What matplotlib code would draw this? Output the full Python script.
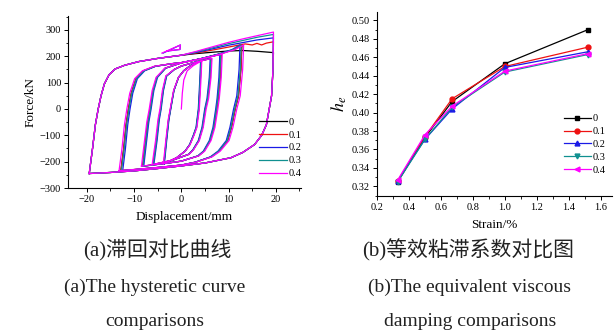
import matplotlib.pyplot as plt
import numpy as np
from matplotlib.ticker import MultipleLocator

plt.rcParams['font.family'] = ['Liberation Serif', 'DejaVu Serif']
plt.rcParams['mathtext.fontset'] = 'stix'

labels = ['0', '0.1', '0.2', '0.3', '0.4']
colors = ['#000000', '#ee1111', '#1a1ae6', '#109090', '#ff00ff']
markers = ['s', 'o', '^', 'v', '<']

# --- (b) equivalent viscous damping ---
strain = [0.33, 0.50, 0.67, 1.00, 1.52]
he = {
    '0':   [0.325, 0.373, 0.412, 0.453, 0.490],
    '0.1': [0.326, 0.374, 0.415, 0.450, 0.471],
    '0.2': [0.326, 0.371, 0.404, 0.449, 0.466],
    '0.3': [0.325, 0.371, 0.406, 0.444, 0.463],
    '0.4': [0.327, 0.376, 0.407, 0.445, 0.464],
}

# --- (a) hysteresis loops ---
# initial loading
init_x = [0, 0.2, 0.5, 1.2, 2.5, 4.2]
init_f = [0, 60, 110, 145, 165, 183]

# inner loops: upper branch then lower branch (closed)
loop4_x = [-3.7, -3.2, -2.7, -2.3, -1.6, -0.6, 0.5, 1.6, 3.0, 4.2,
           4.0, 3.7, 3.2, 2.6, 1.8, 0.8, -1.0, -3.7]
loop4_f = [-208, -120, -40, 0, 70, 120, 145, 160, 175, 183,
           100, 0, -70, -100, -135, -160, -185, -208]
loop6_x = [-6.0, -5.3, -4.8, -4.4, -3.9, -3.2, -1.5, 0, 3.0, 6.3,
           6.1, 5.6, 5.1, 4.5, 3.7, 2.5, 1.6, -2.0, -6.0]
loop6_f = [-211, -120, -40, 0, 70, 125, 150, 163, 178, 192,
           120, 40, 0, -70, -120, -155, -172, -195, -211]
loop8_x = [-8.2, -7.7, -7.1, -6.6, -6.0, -5.2, -3.4, 0, 4.0, 8.4,
           8.2, 7.8, 7.5, 6.9, 6.1, 4.8, 3.6, 0, -4.0, -8.2]
loop8_f = [-217, -140, -50, 0, 70, 120, 155, 175, 190, 208,
           120, 40, 0, -70, -120, -160, -178, -198, -208, -217]
loop13_x = [-12.8, -12.2, -11.7, -11.2, -10.6, -9.6, -8.0, -5.6, -2.0, 0, 4.0, 8.0, 11.0, 12.8,
            12.6, 12.1, 11.4, 10.6, 9.8, 8.0, 6.3, 3.0, 0, -5.0, -10.0, -12.8]
loop13_f = [-234, -150, -60, 0, 60, 115, 145, 162, 172, 176, 190, 208, 225, 243,
            150, 50, 0, -70, -120, -160, -182, -202, -213, -222, -230, -234]

# small jump near x = 0 on the outer branch (series 0.2 and 0.4)
jump_x = [-4.0, -0.2, -0.3, -3.0]
jump_f = [212, 243, 226, 220]

# outer loop (20 mm): rising part up to x=0, then per-series branch, then falling branch
outer_rise_x = [-19.5, -18.8, -18.2, -17.6, -17.0, -16.3, -15.3, -14.0, -12.0, -9.0, -5.0, 0]
outer_rise_f = [-245, -150, -60, 0, 50, 95, 130, 152, 166, 180, 192, 204]
outer_top_x = {
    '0':   [3, 7, 10, 13, 16, 19.5],
    '0.1': [3, 7, 10, 12, 13.5, 15, 16, 17, 18, 19.5],
    '0.2': [3, 7, 10, 13, 16, 19.5],
    '0.3': [3, 7, 10, 13, 16, 19.5],
    '0.4': [3, 7, 10, 13, 16, 19.5],
}
outer_top_f = {
    '0':   [210, 216, 220, 222, 219, 214],
    '0.1': [212, 225, 235, 242, 247, 243, 249, 243, 250, 255],
    '0.2': [214, 230, 242, 252, 262, 270],
    '0.3': [216, 234, 248, 260, 272, 283],
    '0.4': [218, 238, 253, 266, 278, 292],
}
outer_fall_x = [19.4, 19.1, 18.6, 18.0, 17.0, 15.5, 13.0, 10.5, 5.0, 0, -5.0, -10.0, -15.0, -19.5]
outer_fall_f = [150, 50, 0, -60, -100, -135, -165, -185, -205, -216, -226, -235, -241, -245]

# slight spread of inner loops between series
inner_scale = [1.0, 1.0, 0.97, 0.99, 1.03]

fig = plt.figure(figsize=(6.14, 3.33), dpi=100)

ax1 = fig.add_axes([0.1107, 0.4354, 0.3793, 0.5166])
for i, lab in enumerate(labels):
    c = colors[i]
    s = inner_scale[i]
    for lx, lf in [(init_x, init_f), (loop4_x, loop4_f), (loop6_x, loop6_f),
                   (loop8_x, loop8_f), (loop13_x, loop13_f)]:
        if lab == '0.4' or lx is not init_x:
            ax1.plot(np.array(lx) * s, lf, color=c, lw=0.9)
    if lab in ('0.2', '0.4'):
        ax1.plot(np.array(jump_x) * s, jump_f, color=c, lw=0.9)
    ox = outer_rise_x + outer_top_x[lab] + outer_fall_x
    of = outer_rise_f + outer_top_f[lab] + outer_fall_f
    ax1.plot(ox, of, color=c, lw=0.9, label=lab)

ax1.set_xlim(-24, 25.3)
ax1.set_ylim(-300, 353)
ax1.xaxis.set_major_locator(MultipleLocator(10))
ax1.xaxis.set_minor_locator(MultipleLocator(5))
ax1.yaxis.set_major_locator(MultipleLocator(100))
ax1.yaxis.set_minor_locator(MultipleLocator(50))
ax1.set_xlabel('Displacement/mm', fontsize=9.5, labelpad=5)
ax1.set_ylabel('Force/kN', fontsize=9.5, labelpad=2)
ax1.legend(loc='lower right', bbox_to_anchor=(1.03, 0.02), frameon=False,
           fontsize=7.5, handlelength=2.6, handletextpad=0.2,
           labelspacing=0.35, borderaxespad=0.2)

ax2 = fig.add_axes([0.614, 0.4114, 0.3827, 0.5536])
for i, lab in enumerate(labels):
    ax2.plot(strain, he[lab], color=colors[i], marker=markers[i], ms=3.5,
             lw=0.9, label=lab)
ax2.set_xlim(0.2, 1.67)
ax2.set_ylim(0.3095, 0.5095)
ax2.xaxis.set_major_locator(MultipleLocator(0.2))
ax2.xaxis.set_minor_locator(MultipleLocator(0.1))
ax2.yaxis.set_major_locator(MultipleLocator(0.02))
ax2.yaxis.set_minor_locator(MultipleLocator(0.01))
ax2.set_yticks(np.arange(0.32, 0.501, 0.02))
ax2.set_xlabel('Strain/%', fontsize=9.5, labelpad=5)
ax2.set_ylabel(r'$h_e$', fontsize=13, labelpad=2)
ax2.legend(loc='lower right', bbox_to_anchor=(1.0, 0.08), frameon=False,
           fontsize=7.5, handlelength=2.6, handletextpad=0.2,
           labelspacing=0.35, borderaxespad=0.2)

for ax in (ax1, ax2):
    ax.spines['top'].set_visible(False)
    ax.spines['right'].set_visible(False)
    ax.tick_params(which='major', direction='out', length=3, width=0.7,
                   labelsize=7.5, pad=2)
    ax.tick_params(which='minor', direction='out', length=1.8, width=0.6)
    for sp in ax.spines.values():
        sp.set_linewidth(0.8)

cap = dict(ha='center', va='center', fontsize=14, color='#222222')
cjk = dict(ha='center', va='center', fontsize=15, color='#222222',
           family=['Liberation Serif', 'Noto Sans CJK SC'])
fig.text(157 / 614, 1 - 250 / 333, '(a)滞回对比曲线', **cjk)
fig.text(155 / 614, 1 - 287 / 333, '(a)The hysteretic curve', **cap)
fig.text(155 / 614, 1 - 322 / 333, 'comparisons', **cap)
fig.text(468 / 614, 1 - 250 / 333, '(b)等效粘滞系数对比图', **cjk)
fig.text(469 / 614, 1 - 287 / 333, '(b)The equivalent viscous', **cap)
fig.text(470 / 614, 1 - 322 / 333, 'damping comparisons', **cap)

fig.savefig('out.png', dpi=100)
